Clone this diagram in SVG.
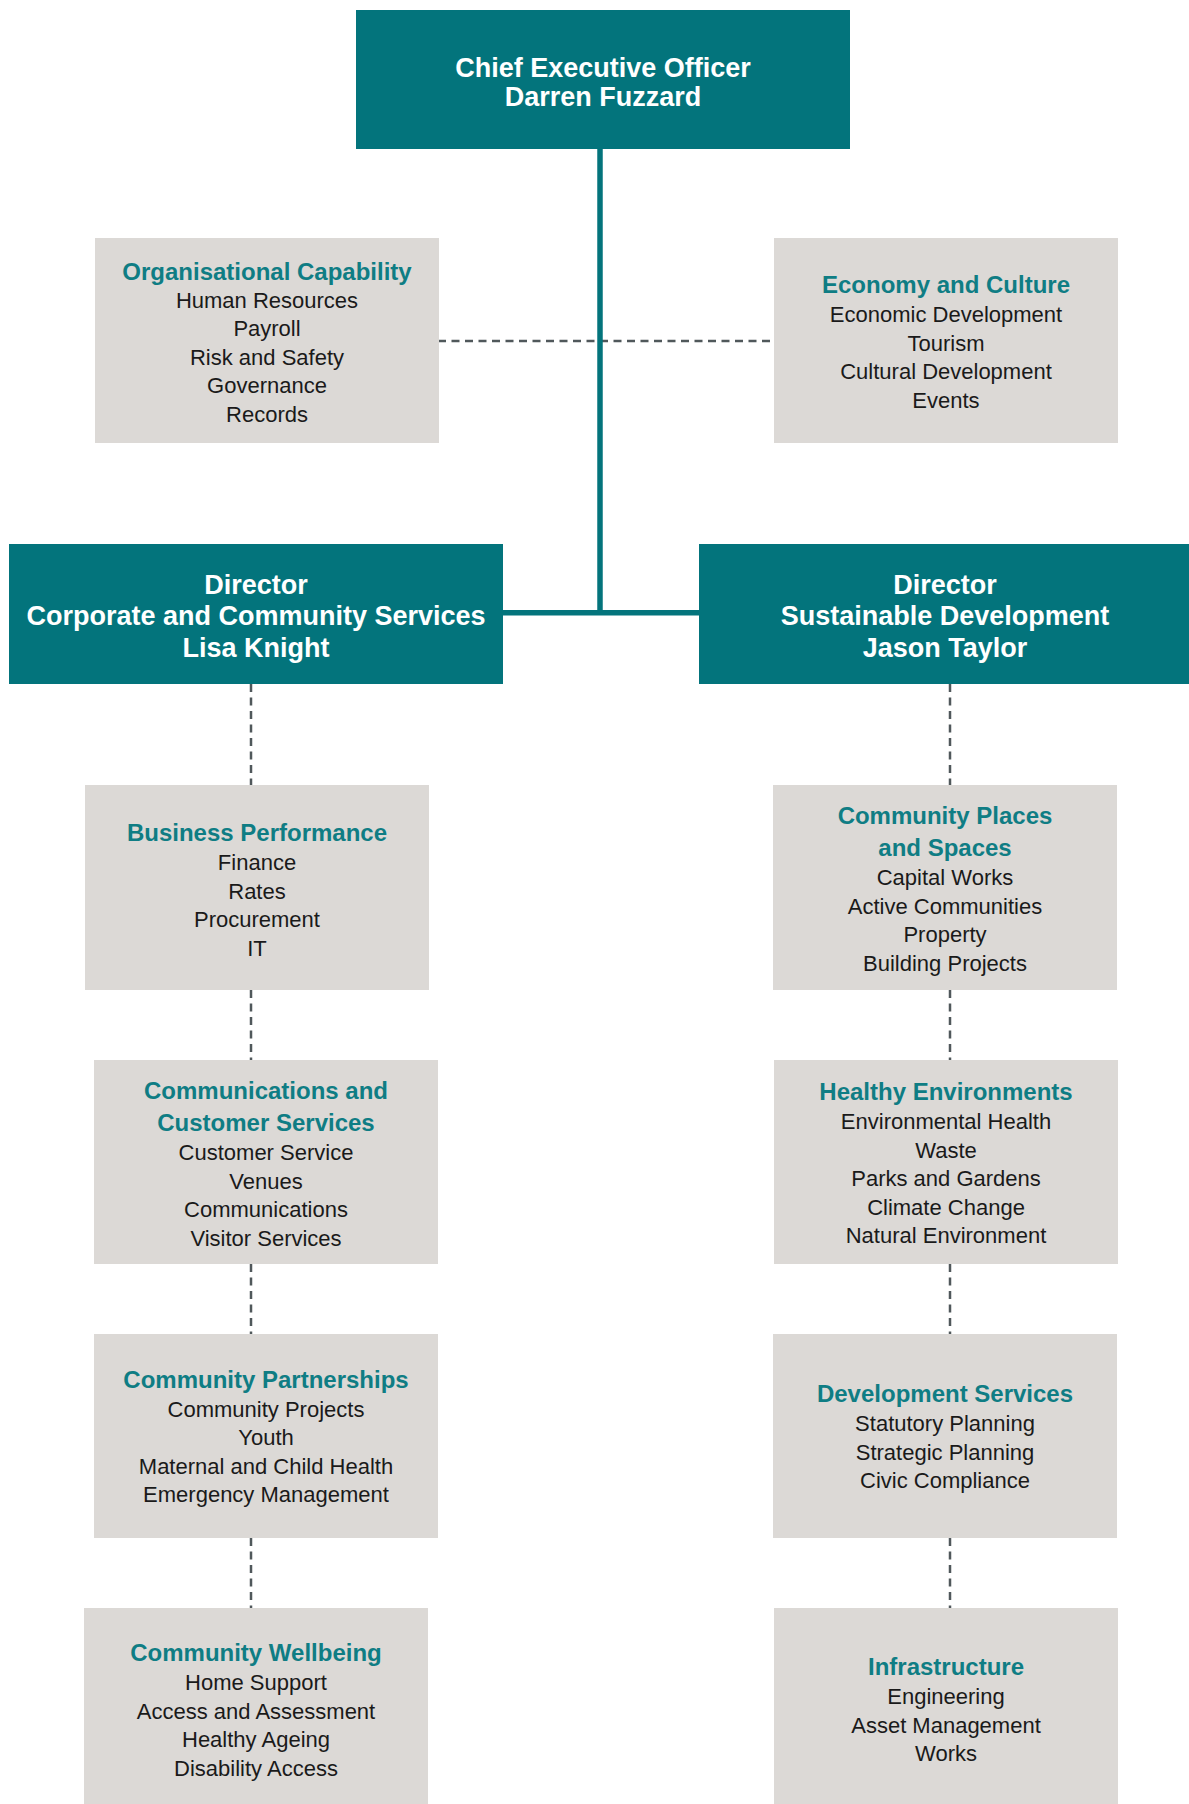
<svg xmlns="http://www.w3.org/2000/svg" width="1189" height="1804" viewBox="0 0 1189 1804">
<style>
.head{fill:#03747c}
.box{fill:#dcd9d6}
.ht{font-family:"Liberation Sans",Arial,sans-serif;font-weight:bold;font-size:27px;fill:#ffffff;text-anchor:middle}
.tt{font-family:"Liberation Sans",Arial,sans-serif;font-weight:bold;font-size:24px;fill:#0f7d84;text-anchor:middle}
.bt{font-family:"Liberation Sans",Arial,sans-serif;font-size:22px;fill:#1a1a1a;text-anchor:middle}
.dash{stroke:#50585b;stroke-width:2.5;stroke-dasharray:8 5.5;fill:none}
.solid{stroke:#03747c;stroke-width:5.5;fill:none}
</style>
<rect width="1189" height="1804" fill="#ffffff"/>
<g id="connectors">
<line class="dash" x1="438" y1="341" x2="774" y2="341"/>
<line class="dash" x1="251" y1="684" x2="251" y2="785"/>
<line class="dash" x1="251" y1="990" x2="251" y2="1060"/>
<line class="dash" x1="251" y1="1264" x2="251" y2="1334"/>
<line class="dash" x1="251" y1="1538" x2="251" y2="1608"/>
<line class="dash" x1="950" y1="684" x2="950" y2="785"/>
<line class="dash" x1="950" y1="990" x2="950" y2="1060"/>
<line class="dash" x1="950" y1="1264" x2="950" y2="1334"/>
<line class="dash" x1="950" y1="1538" x2="950" y2="1608"/>
<line class="solid" x1="600" y1="149" x2="600" y2="615"/>
<line class="solid" x1="502" y1="612.7" x2="699" y2="612.7"/>
</g>
<g id="ceo">
<rect class="head" x="356" y="10" width="494" height="139"/>
<text class="ht" x="603" y="77">Chief Executive Officer</text>
<text class="ht" x="603" y="106">Darren Fuzzard</text>
</g>
<g id="org-capability">
<rect class="box" x="95" y="238" width="344" height="205"/>
<text class="tt" x="267" y="280">Organisational Capability</text>
<text class="bt" x="267" y="307.5">Human Resources</text>
<text class="bt" x="267" y="336">Payroll</text>
<text class="bt" x="267" y="364.5">Risk and Safety</text>
<text class="bt" x="267" y="393">Governance</text>
<text class="bt" x="267" y="421.5">Records</text>
</g>
<g id="economy-culture">
<rect class="box" x="774" y="238" width="344" height="205"/>
<text class="tt" x="946" y="293">Economy and Culture</text>
<text class="bt" x="946" y="322">Economic Development</text>
<text class="bt" x="946" y="350.5">Tourism</text>
<text class="bt" x="946" y="379">Cultural Development</text>
<text class="bt" x="946" y="407.5">Events</text>
</g>
<g id="director-corporate">
<rect class="head" x="9" y="544" width="494" height="140"/>
<text class="ht" x="256" y="593.5">Director</text>
<text class="ht" x="256" y="625">Corporate and Community Services</text>
<text class="ht" x="256" y="656.5">Lisa Knight</text>
</g>
<g id="director-sustainable">
<rect class="head" x="699" y="544" width="494" height="140"/>
<text class="ht" x="945" y="593.5">Director</text>
<text class="ht" x="945" y="625">Sustainable Development</text>
<text class="ht" x="945" y="656.5">Jason Taylor</text>
</g>
<g id="business-performance">
<rect class="box" x="85" y="785" width="344" height="205"/>
<text class="tt" x="257" y="841">Business Performance</text>
<text class="bt" x="257" y="870">Finance</text>
<text class="bt" x="257" y="898.5">Rates</text>
<text class="bt" x="257" y="927">Procurement</text>
<text class="bt" x="257" y="955.5">IT</text>
</g>
<g id="community-places">
<rect class="box" x="773" y="785" width="344" height="205"/>
<text class="tt" x="945" y="824">Community Places</text>
<text class="tt" x="945" y="856">and Spaces</text>
<text class="bt" x="945" y="885">Capital Works</text>
<text class="bt" x="945" y="913.5">Active Communities</text>
<text class="bt" x="945" y="942">Property</text>
<text class="bt" x="945" y="970.5">Building Projects</text>
</g>
<g id="communications-customer">
<rect class="box" x="94" y="1060" width="344" height="204"/>
<text class="tt" x="266" y="1099">Communications and</text>
<text class="tt" x="266" y="1131">Customer Services</text>
<text class="bt" x="266" y="1160">Customer Service</text>
<text class="bt" x="266" y="1188.5">Venues</text>
<text class="bt" x="266" y="1217">Communications</text>
<text class="bt" x="266" y="1245.5">Visitor Services</text>
</g>
<g id="healthy-environments">
<rect class="box" x="774" y="1060" width="344" height="204"/>
<text class="tt" x="946" y="1100">Healthy Environments</text>
<text class="bt" x="946" y="1129">Environmental Health</text>
<text class="bt" x="946" y="1157.5">Waste</text>
<text class="bt" x="946" y="1186">Parks and Gardens</text>
<text class="bt" x="946" y="1214.5">Climate Change</text>
<text class="bt" x="946" y="1243">Natural Environment</text>
</g>
<g id="community-partnerships">
<rect class="box" x="94" y="1334" width="344" height="204"/>
<text class="tt" x="266" y="1387.5">Community Partnerships</text>
<text class="bt" x="266" y="1416.5">Community Projects</text>
<text class="bt" x="266" y="1445">Youth</text>
<text class="bt" x="266" y="1473.5">Maternal and Child Health</text>
<text class="bt" x="266" y="1502">Emergency Management</text>
</g>
<g id="development-services">
<rect class="box" x="773" y="1334" width="344" height="204"/>
<text class="tt" x="945" y="1402">Development Services</text>
<text class="bt" x="945" y="1431">Statutory Planning</text>
<text class="bt" x="945" y="1459.5">Strategic Planning</text>
<text class="bt" x="945" y="1488">Civic Compliance</text>
</g>
<g id="community-wellbeing">
<rect class="box" x="84" y="1608" width="344" height="205"/>
<text class="tt" x="256" y="1661">Community Wellbeing</text>
<text class="bt" x="256" y="1690">Home Support</text>
<text class="bt" x="256" y="1718.5">Access and Assessment</text>
<text class="bt" x="256" y="1747">Healthy Ageing</text>
<text class="bt" x="256" y="1775.5">Disability Access</text>
</g>
<g id="infrastructure">
<rect class="box" x="774" y="1608" width="344" height="205"/>
<text class="tt" x="946" y="1675">Infrastructure</text>
<text class="bt" x="946" y="1704">Engineering</text>
<text class="bt" x="946" y="1732.5">Asset Management</text>
<text class="bt" x="946" y="1761">Works</text>
</g>
</svg>
